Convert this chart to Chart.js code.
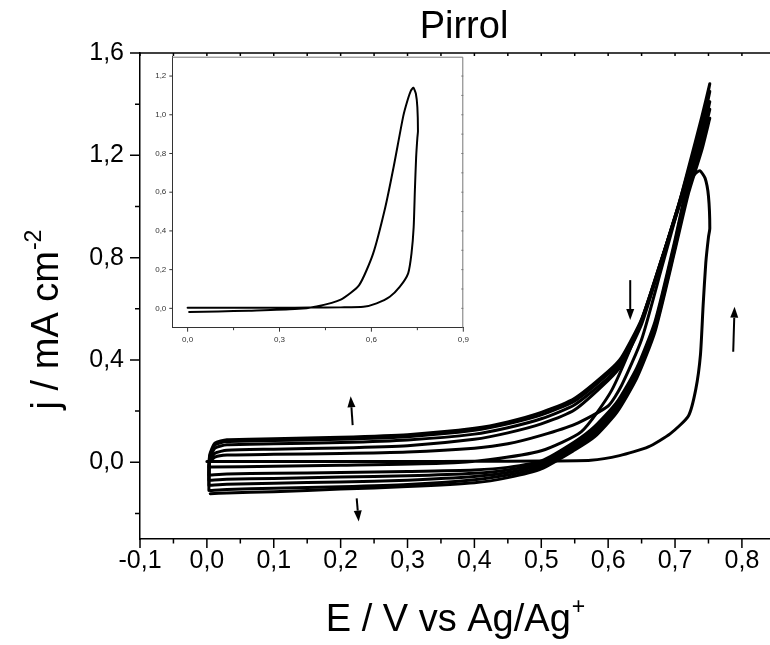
<!DOCTYPE html>
<html>
<head>
<meta charset="utf-8">
<script src="https://cdn.jsdelivr.net/npm/chart.js@4"></script>
<style>
  html, body { margin: 0; padding: 0; background: #fff; }
  #wrap { position: relative; width: 770px; height: 645px; }
  #mainChart { position: absolute; left: 0; top: 0; }
  #insetChart { position: absolute; left: 140px; top: 53px; }
</style>
</head>
<body>
<div id="wrap">
  <canvas id="mainChart" width="770" height="645"></canvas>
  <canvas id="insetChart" width="330" height="300"></canvas>
</div>
<script>
/* ===== Pirrol cyclic voltammograms ===== */

const FONT = "'Liberation Sans', Arial, sans-serif";

const mainTitle = 'Pirrol';
const xTitle = 'E / V vs Ag/Ag';
const xTitleSup = '+';
const yTitle = 'j / mA cm';
const yTitleSup = '-2';

// tick values
const xTicks = [-0.1, 0.0, 0.1, 0.2, 0.3, 0.4, 0.5, 0.6, 0.7, 0.8];
const xMinorTicks = [-0.05, 0.05, 0.15, 0.25, 0.35, 0.45, 0.55, 0.65, 0.75];
const yTicks = [0.0, 0.4, 0.8, 1.2, 1.6];
const yMinorTicks = [-0.2, 0.2, 0.6, 1.0, 1.4];
const insetXTicks = [0.0, 0.3, 0.6, 0.9];
const insetXMinor = [0.15, 0.45, 0.75];
const insetYTicks = [0.0, 0.2, 0.4, 0.6, 0.8, 1.0, 1.2];
const insetYMinor = [0.1, 0.3, 0.5, 0.7, 0.9, 1.1];

// first cycle (also drawn in the inset)
const cycle1E = [0.000, 0.100, 0.200, 0.300, 0.400, 0.500, 0.574, 0.617, 0.660, 0.693, 0.720, 0.731, 0.738, 0.742, 0.746, 0.750, 0.752,
                 0.750, 0.745, 0.737, 0.729, 0.718, 0.704, 0.673, 0.645, 0.605, 0.560, 0.500, 0.421, 0.350, 0.200, 0.100, 0.005];
const cycle1J = [0.003, 0.003, 0.003, 0.003, 0.004, 0.005, 0.008, 0.026, 0.060, 0.112, 0.181, 0.285, 0.420, 0.613, 0.780, 0.880, 0.915,
                 1.040, 1.110, 1.140, 1.125, 1.075, 0.993, 0.734, 0.520, 0.280, 0.120, 0.045, 0.010, -0.004, -0.012, -0.016, -0.019];

// following cycles: forward (anodic) and reverse scans
const fwdE = [0.003, 0.004, 0.012, 0.030, 0.100, 0.200, 0.300, 0.400, 0.450, 0.500, 0.550, 0.600, 0.620, 0.650, 0.680, 0.700, 0.720, 0.740, 0.752];
const revE = [0.752, 0.740, 0.720, 0.700, 0.670, 0.643, 0.613, 0.580, 0.550, 0.500, 0.450, 0.400, 0.300, 0.200, 0.100, 0.030, 0.005];

const fwdJ2 = [-0.019, 0.000, 0.020, 0.028, 0.031, 0.034, 0.040, 0.055, 0.072, 0.105, 0.148, 0.220, 0.300, 0.480, 0.760, 0.950, 1.150, 1.350, 1.480];
const fwdJ3 = [-0.050, 0.000, 0.035, 0.047, 0.051, 0.056, 0.065, 0.090, 0.115, 0.150, 0.205, 0.320, 0.380, 0.540, 0.790, 0.960, 1.140, 1.330, 1.450];
const fwdJ4 = [-0.070, 0.010, 0.055, 0.068, 0.072, 0.077, 0.087, 0.110, 0.135, 0.170, 0.225, 0.330, 0.390, 0.550, 0.790, 0.960, 1.130, 1.310, 1.410];
const fwdJ5 = [-0.090, 0.020, 0.068, 0.081, 0.085, 0.090, 0.100, 0.125, 0.150, 0.185, 0.240, 0.345, 0.400, 0.555, 0.795, 0.955, 1.120, 1.290, 1.380];
const fwdJ6 = [-0.110, 0.025, 0.075, 0.088, 0.092, 0.098, 0.108, 0.133, 0.158, 0.195, 0.250, 0.355, 0.410, 0.560, 0.795, 0.950, 1.110, 1.270, 1.345];

const revJ2 = [1.480, 1.320, 1.110, 0.870, 0.550, 0.370, 0.235, 0.140, 0.080, 0.005, -0.020, -0.030, -0.036, -0.040, -0.043, -0.046, -0.050];
const revJ3 = [1.450, 1.300, 1.100, 0.860, 0.540, 0.360, 0.225, 0.130, 0.070, -0.003, -0.030, -0.043, -0.053, -0.058, -0.063, -0.066, -0.070];
const revJ4 = [1.410, 1.270, 1.080, 0.850, 0.530, 0.350, 0.215, 0.120, 0.062, -0.010, -0.040, -0.056, -0.070, -0.077, -0.082, -0.086, -0.090];
const revJ5 = [1.380, 1.250, 1.070, 0.840, 0.520, 0.340, 0.205, 0.110, 0.055, -0.018, -0.050, -0.068, -0.087, -0.096, -0.102, -0.106, -0.110];
const revJ6 = [1.345, 1.220, 1.050, 0.830, 0.510, 0.330, 0.195, 0.100, 0.048, -0.026, -0.060, -0.080, -0.095, -0.105, -0.115, -0.120, -0.123];

// arrows (potential / current of tail and head)
const arrowFromE = [0.218, 0.224, 0.633, 0.787];
const arrowFromJ = [0.145, -0.141, 0.712, 0.432];
const arrowToE = [0.215, 0.227, 0.633, 0.789];
const arrowToJ = [0.258, -0.232, 0.556, 0.608];

Chart.defaults.color = '#000';
Chart.defaults.font.family = FONT;

function zip(es, js) {
  return es.map((e, i) => ({ x: e, y: js[i] }));
}

function fmt(v) {
  return v.toFixed(1).replace('.', ',');
}

function noPad(s) {
  s.paddingTop = 0;
  s.paddingBottom = 0;
  s.paddingLeft = 0;
  s.paddingRight = 0;
}

function curve(points, width) {
  return {
    data: points,
    showLine: true,
    borderColor: '#000',
    backgroundColor: '#000',
    borderWidth: width,
    pointRadius: 0,
    tension: 0.2,
    borderJoinStyle: 'round',
    borderCapStyle: 'round'
  };
}

function marks(ctx, scale, values, side, len, area) {
  ctx.beginPath();
  values.forEach(v => {
    const p = scale.getPixelForValue(v);
    if (side === 'bottom') { ctx.moveTo(p, area.bottom); ctx.lineTo(p, area.bottom + len); }
    if (side === 'top') { ctx.moveTo(p, area.top); ctx.lineTo(p, area.top - len); }
    if (side === 'left') { ctx.moveTo(area.left, p); ctx.lineTo(area.left - len, p); }
    if (side === 'right') { ctx.moveTo(area.right, p); ctx.lineTo(area.right + len, p); }
  });
  ctx.stroke();
}

function supText(ctx, text, sup, size, x, y) {
  ctx.font = size + 'px ' + FONT;
  const w1 = ctx.measureText(text).width;
  ctx.font = Math.round(size * 0.6) + 'px ' + FONT;
  const w2 = ctx.measureText(sup).width;
  const start = x - (w1 + w2) / 2;
  ctx.textAlign = 'left';
  ctx.textBaseline = 'alphabetic';
  ctx.font = size + 'px ' + FONT;
  ctx.fillText(text, start, y);
  ctx.font = Math.round(size * 0.6) + 'px ' + FONT;
  ctx.fillText(sup, start + w1 + 1, y - size * 0.45);
}

const mainDecor = {
  id: 'mainDecor',
  afterDraw(chart) {
    const { ctx, chartArea: a, scales } = chart;
    ctx.save();
    ctx.strokeStyle = '#000';
    ctx.fillStyle = '#000';

    // top frame line
    ctx.lineWidth = 1.5;
    ctx.beginPath();
    ctx.moveTo(a.left, a.top);
    ctx.lineTo(a.right, a.top);
    ctx.stroke();

    // tick marks
    marks(ctx, scales.x, xTicks, 'bottom', 9, a);
    marks(ctx, scales.x, xMinorTicks, 'bottom', 4.5, a);
    marks(ctx, scales.x, xTicks.concat(xMinorTicks), 'top', -3, a);
    marks(ctx, scales.y, yTicks, 'left', 10, a);
    marks(ctx, scales.y, yMinorTicks, 'left', 5, a);

    // arrows
    ctx.lineWidth = 2;
    arrowFromE.forEach((e, i) => {
      const x0 = scales.x.getPixelForValue(e);
      const y0 = scales.y.getPixelForValue(arrowFromJ[i]);
      const x1 = scales.x.getPixelForValue(arrowToE[i]);
      const y1 = scales.y.getPixelForValue(arrowToJ[i]);
      const ang = Math.atan2(y1 - y0, x1 - x0);
      const hl = 11, hw = 4;
      ctx.beginPath();
      ctx.moveTo(x0, y0);
      ctx.lineTo(x1 - Math.cos(ang) * hl, y1 - Math.sin(ang) * hl);
      ctx.stroke();
      ctx.beginPath();
      ctx.moveTo(x1, y1);
      ctx.lineTo(x1 - Math.cos(ang) * hl - Math.sin(ang) * hw, y1 - Math.sin(ang) * hl + Math.cos(ang) * hw);
      ctx.lineTo(x1 - Math.cos(ang) * hl + Math.sin(ang) * hw, y1 - Math.sin(ang) * hl - Math.cos(ang) * hw);
      ctx.closePath();
      ctx.fill();
    });

    // titles
    ctx.font = '38px ' + FONT;
    ctx.textAlign = 'center';
    ctx.textBaseline = 'alphabetic';
    ctx.fillText(mainTitle, (a.left + a.right) / 2 + 9, 38);

    supText(ctx, xTitle, xTitleSup, 38, (a.left + a.right) / 2, 631);

    ctx.save();
    ctx.translate(58, 320);
    ctx.rotate(-Math.PI / 2);
    supText(ctx, yTitle, yTitleSup, 38, 0, 0);
    ctx.restore();

    ctx.restore();
  }
};

const insetDecor = {
  id: 'insetDecor',
  afterDraw(chart) {
    const { ctx, chartArea: a, scales } = chart;
    ctx.save();
    ctx.strokeStyle = '#777';
    ctx.lineWidth = 1;
    ctx.beginPath();
    ctx.moveTo(a.left, a.top + 0.5);
    ctx.lineTo(a.right - 0.5, a.top + 0.5);
    ctx.lineTo(a.right - 0.5, a.bottom);
    ctx.stroke();
    marks(ctx, scales.y, insetYTicks.concat(insetYMinor), 'right', -2, a);
    ctx.strokeStyle = '#333';
    marks(ctx, scales.x, insetXTicks, 'bottom', 4, a);
    marks(ctx, scales.x, insetXMinor, 'bottom', 2.5, a);
    marks(ctx, scales.y, insetYTicks, 'left', 3, a);
    ctx.restore();
  }
};

const mainDatasets = [
  curve(zip(cycle1E, cycle1J), 3),
  curve(zip(fwdE.concat(revE), fwdJ2.concat(revJ2)), 3),
  curve(zip(fwdE.concat(revE), fwdJ3.concat(revJ3)), 3),
  curve(zip(fwdE.concat(revE), fwdJ4.concat(revJ4)), 3),
  curve(zip(fwdE.concat(revE), fwdJ5.concat(revJ5)), 3),
  curve(zip(fwdE.concat(revE), fwdJ6.concat(revJ6)), 3)
];

new Chart(document.getElementById('mainChart'), {
  type: 'scatter',
  data: { datasets: mainDatasets },
  options: {
    responsive: false,
    animation: false,
    layout: { padding: { top: 53, right: 0, bottom: 0, left: 0 } },
    plugins: { legend: { display: false }, tooltip: { enabled: false } },
    scales: {
      x: {
        type: 'linear',
        min: -0.1,
        max: 0.842,
        afterBuildTicks: s => { s.ticks = xTicks.map(v => ({ value: v })); },
        afterFit: s => { s.height = 106; noPad(s); },
        grid: { display: false, drawTicks: false, tickLength: 0 },
        border: { display: true, color: '#000', width: 1.5 },
        ticks: { autoSkip: false, maxRotation: 0, padding: 7, font: { size: 25 }, callback: v => fmt(v) }
      },
      y: {
        type: 'linear',
        min: -0.3,
        max: 1.6,
        afterBuildTicks: s => { s.ticks = yTicks.map(v => ({ value: v })); },
        afterFit: s => { s.width = 140; noPad(s); },
        grid: { display: false, drawTicks: false, tickLength: 0 },
        border: { display: true, color: '#000', width: 1.5 },
        ticks: { autoSkip: false, padding: 16, font: { size: 25 }, callback: v => fmt(v) }
      }
    }
  },
  plugins: [mainDecor]
});

new Chart(document.getElementById('insetChart'), {
  type: 'scatter',
  data: { datasets: [curve(zip(cycle1E, cycle1J), 2)] },
  options: {
    responsive: false,
    animation: false,
    layout: { padding: { top: 3.7, right: 6.7, bottom: 0, left: 0 } },
    plugins: { legend: { display: false }, tooltip: { enabled: false } },
    scales: {
      x: {
        type: 'linear',
        min: -0.05,
        max: 0.9,
        afterBuildTicks: s => { s.ticks = insetXTicks.map(v => ({ value: v })); },
        afterFit: s => { s.height = 25.3; noPad(s); },
        grid: { display: false, drawTicks: false, tickLength: 0 },
        border: { display: true, color: '#333', width: 1 },
        ticks: { autoSkip: false, maxRotation: 0, padding: 7, color: '#333', font: { size: 8 }, callback: v => fmt(v) }
      },
      y: {
        type: 'linear',
        min: -0.1,
        max: 1.3,
        afterBuildTicks: s => { s.ticks = insetYTicks.map(v => ({ value: v })); },
        afterFit: s => { s.width = 32.3; noPad(s); },
        grid: { display: false, drawTicks: false, tickLength: 0 },
        border: { display: true, color: '#333', width: 1 },
        ticks: { autoSkip: false, padding: 6, color: '#333', font: { size: 8 }, callback: v => fmt(v) }
      }
    }
  },
  plugins: [insetDecor]
});
</script>
</body>
</html>
